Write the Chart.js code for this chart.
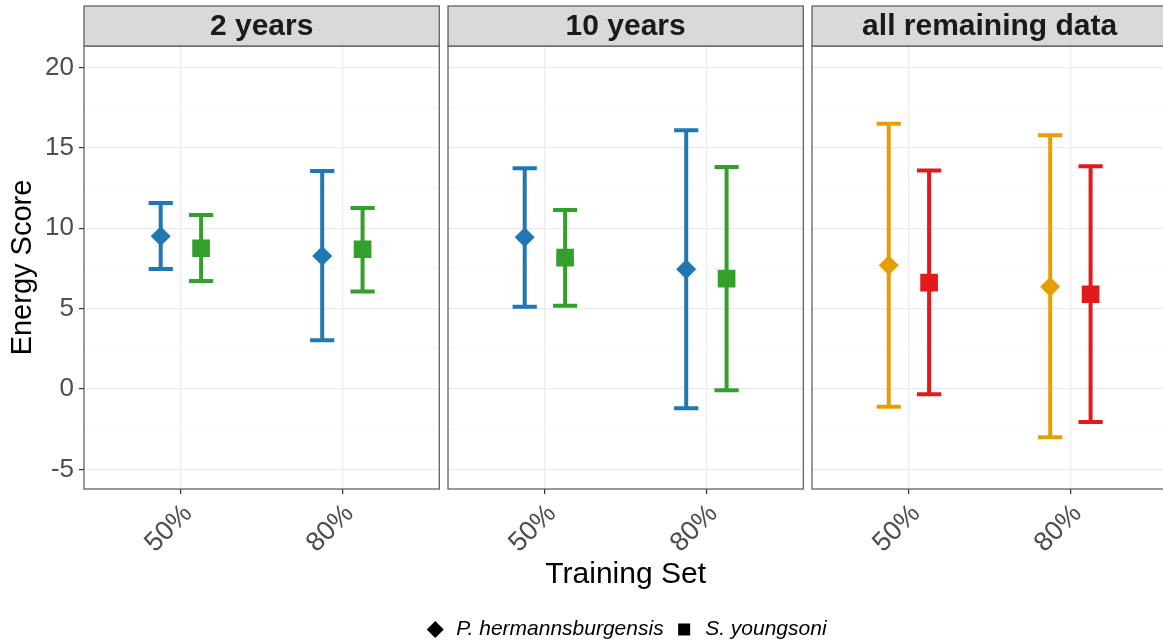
<!DOCTYPE html>
<html>
<head>
<meta charset="utf-8">
<script src="https://cdn.jsdelivr.net/npm/chart.js@4"></script>
<style>
  html, body { margin: 0; padding: 0; overflow: hidden; background: #fff; }
  canvas { display: block; }
</style>
</head>
<body>
<canvas id="energyChart" width="1170" height="650"></canvas>
<script>
const panels = ['2 years', '10 years', 'all remaining data'];
const trainingSets = ['50%', '80%'];
const species = ['P. hermannsburgensis', 'S. youngsoni'];
const yTicks = [-5, 0, 5, 10, 15, 20];
const yMinorTicks = [-2.5, 2.5, 7.5, 12.5, 17.5];

// order: 2 years (50%, 80%), 10 years (50%, 80%), all remaining data (50%, 80%)
const hermMean = [9.50, 8.27, 9.43, 7.44, 7.69, 6.36];
const hermLow = [7.46, 3.03, 5.12, -1.20, -1.10, -3.00];
const hermHigh = [11.57, 13.56, 13.72, 16.09, 16.50, 15.78];

const youngMean = [8.75, 8.69, 8.17, 6.86, 6.61, 5.89];
const youngLow = [6.72, 6.07, 5.18, -0.08, -0.33, -2.05];
const youngHigh = [10.82, 11.26, 11.13, 13.80, 13.58, 13.85];

const hermColors = ['#1f78b4', '#1f78b4', '#1f78b4', '#1f78b4', '#e69f00', '#e69f00'];
const youngColors = ['#33a02c', '#33a02c', '#33a02c', '#33a02c', '#e31a1c', '#e31a1c'];

const lows = [hermLow, youngLow];
const highs = [hermHigh, youngHigh];

// each facet is 2.2 category units wide, facets sit side by side with a small gap
const panelStep = 2.254;
const dodge = 0.125;
const capWidth = 0.15;
const font = '"Liberation Sans", Arial, Helvetica, sans-serif';

function xPos(i) {
    const p = Math.floor(i / 2);
    return p * panelStep + 1 + (i % 2);
}

const tickXs = hermMean.map((v, i) => xPos(i));

const facetPlugin = {
    id: 'facets',
    beforeDatasetsDraw(chart) {
        const { ctx, chartArea, scales: { x, y } } = chart;
        ctx.save();
        // blank the gaps between facets
        ctx.fillStyle = '#fff';
        for (let p = 0; p < panels.length - 1; p++) {
            const l = x.getPixelForValue(p * panelStep + 2.6);
            const r = x.getPixelForValue((p + 1) * panelStep + 0.4);
            ctx.fillRect(l, 0, r - l, chartArea.bottom);
        }
        // error bars
        ctx.lineWidth = 4;
        chart.data.datasets.forEach((ds, d) => {
            ds.data.forEach((pt, i) => {
                const px = x.getPixelForValue(pt.x);
                const half = x.getPixelForValue(pt.x + capWidth / 2) - px;
                const top = y.getPixelForValue(highs[d][i]);
                const bottom = y.getPixelForValue(lows[d][i]);
                ctx.strokeStyle = ds.backgroundColor[i];
                ctx.beginPath();
                ctx.moveTo(px, top);
                ctx.lineTo(px, bottom);
                ctx.moveTo(px - half, top);
                ctx.lineTo(px + half, top);
                ctx.moveTo(px - half, bottom);
                ctx.lineTo(px + half, bottom);
                ctx.stroke();
            });
        });
        ctx.restore();
    },
    afterDraw(chart) {
        const { ctx, chartArea, scales: { x } } = chart;
        ctx.save();
        panels.forEach((name, p) => {
            const l = x.getPixelForValue(p * panelStep + 0.4);
            const r = x.getPixelForValue(p * panelStep + 2.6);
            ctx.strokeStyle = '#555';
            ctx.lineWidth = 1.2;
            ctx.strokeRect(l, chartArea.top, r - l, chartArea.bottom - chartArea.top);
            ctx.fillStyle = '#d9d9d9';
            ctx.fillRect(l, chartArea.top - 40, r - l, 40);
            ctx.strokeRect(l, chartArea.top - 40, r - l, 40);
            ctx.fillStyle = '#1a1a1a';
            ctx.font = 'bold 30px ' + font;
            ctx.textAlign = 'center';
            ctx.textBaseline = 'middle';
            ctx.fillText(name, (l + r) / 2, chartArea.top - 19);
        });
        ctx.restore();
    }
};

const ctx = document.getElementById('energyChart').getContext('2d');

new Chart(ctx, {
    type: 'scatter',
    data: {
        datasets: [
            {
                label: species[0],
                data: hermMean.map((v, i) => ({ x: xPos(i) - dodge, y: v })),
                backgroundColor: hermColors,
                borderWidth: 0,
                pointStyle: 'rectRot',
                pointRadius: 10
            },
            {
                label: species[1],
                data: youngMean.map((v, i) => ({ x: xPos(i) + dodge, y: v })),
                backgroundColor: youngColors,
                borderWidth: 0,
                pointStyle: 'rect',
                pointRadius: 12.5
            }
        ]
    },
    options: {
        responsive: false,
        animation: false,
        layout: { autoPadding: false, padding: { top: 46, right: 2.7 } },
        plugins: {
            tooltip: { enabled: false },
            legend: {
                position: 'bottom',
                fullSize: false,
                labels: {
                    usePointStyle: true,
                    boxHeight: 12,
                    color: '#000',
                    font: { family: font, size: 21, style: 'italic' },
                    generateLabels: chart => chart.data.datasets.map((ds, i) => ({
                        text: ds.label,
                        fillStyle: '#000',
                        strokeStyle: '#000',
                        lineWidth: 0,
                        pointStyle: ds.pointStyle,
                        datasetIndex: i
                    }))
                }
            }
        },
        scales: {
            x: {
                type: 'linear',
                min: 0.4,
                max: 2 * panelStep + 2.6,
                afterBuildTicks: s => { s.ticks = tickXs.map(v => ({ value: v })); },
                afterFit: s => {
                    s.height = 120;
                    s.paddingLeft = 0;
                    s.paddingRight = 0;
                },
                ticks: {
                    autoSkip: false,
                    minRotation: 45,
                    maxRotation: 45,
                    padding: 4,
                    labelOffset: 7,
                    color: '#4d4d4d',
                    font: { family: font, size: 27 },
                    callback: (v, i) => trainingSets[i % 2]
                },
                grid: { color: '#ebebeb', lineWidth: 1.2, tickColor: '#333', tickLength: 5, tickWidth: 1.2 },
                border: { display: false },
                title: {
                    display: true,
                    text: 'Training Set',
                    color: '#000',
                    font: { family: font, size: 30 },
                    padding: { bottom: 16 }
                }
            },
            y: {
                min: -6.22,
                max: 21.33,
                afterBuildTicks: s => {
                    s.ticks = yTicks.concat(yMinorTicks).sort((a, b) => a - b).map(v => ({ value: v }));
                },
                afterFit: s => { s.width = 84; },
                ticks: {
                    padding: 5,
                    color: '#4d4d4d',
                    font: { family: font, size: 26 },
                    callback: v => yTicks.includes(v) ? String(v) : ''
                },
                grid: {
                    color: c => yTicks.includes(c.tick.value) ? '#ebebeb' : '#f5f5f5',
                    lineWidth: c => yTicks.includes(c.tick.value) ? 1.2 : 0.8,
                    tickColor: c => yTicks.includes(c.tick.value) ? '#333' : 'rgba(0,0,0,0)',
                    tickLength: 5,
                    tickWidth: 1.2
                },
                border: { display: false },
                title: {
                    display: true,
                    text: 'Energy Score',
                    color: '#000',
                    font: { family: font, size: 29 },
                    padding: { top: 6 }
                }
            }
        }
    },
    plugins: [facetPlugin]
});
</script>
</body>
</html>
